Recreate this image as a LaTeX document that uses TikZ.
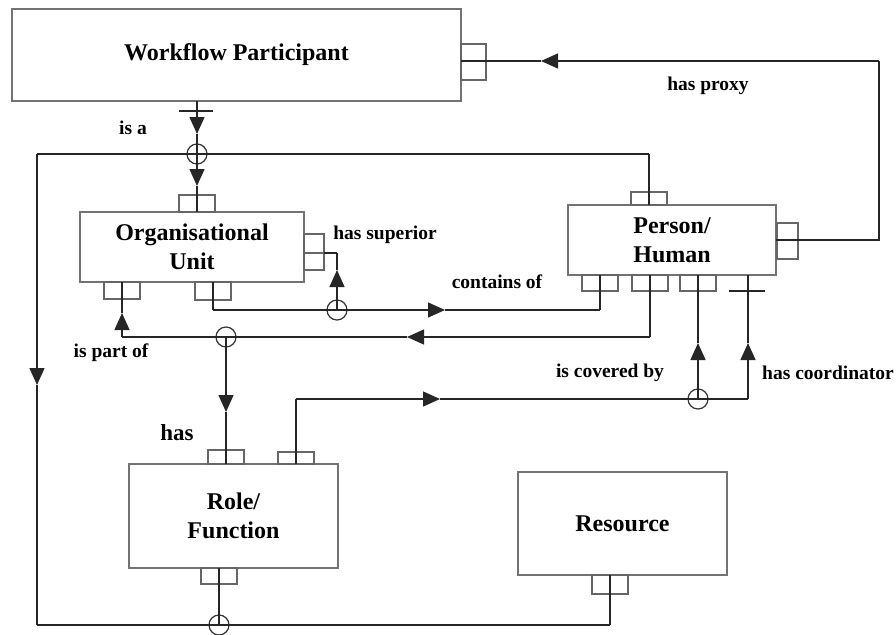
\documentclass[tikz,border=0pt]{standalone}
\usepackage{fontspec}
\setmainfont{Liberation Serif}
\usetikzlibrary{arrows.meta}

\begin{document}
\begin{tikzpicture}[x=1pt, y=-1pt, line width=1.3pt]
        \tikzstyle{entityBox} = [draw=gray!90!black, line width=1.8pt, fill=white, align=center,
                                 font=\fontsize{24}{29}\selectfont\bfseries]
        \tikzstyle{portBox} = [draw=gray!80!black, line width=1.5pt, inner sep=0pt,
                               minimum width=36pt, minimum height=16pt]
        \tikzstyle{sidePort} = [portBox, minimum width=22pt, minimum height=36pt]
        \tikzstyle{junction} = [circle, draw=black!80, line width=1.2pt, minimum size=20pt, inner sep=0pt]
        \tikzstyle{relLabel} = [font=\fontsize{19.5}{22}\selectfont\bfseries, inner sep=0pt]
        \tikzstyle{plainEdge} = [draw=black!85]
        \tikzstyle{arrowEdge} = [draw=black!85, -{Triangle[length=17pt, width=15pt]}]
        \useasboundingbox (0,0) rectangle (896,634);

        % entities
        \node[entityBox, minimum width=449pt, minimum height=92pt] (wp) at (236.5,55) {Workflow Participant};
        \node[entityBox, minimum width=224pt, minimum height=70pt] (ou) at (192,247) {Organisational\\Unit};
        \node[entityBox, minimum width=208pt, minimum height=70pt] (ph) at (672,240) {Person/\\Human};
        \node[entityBox, minimum width=209pt, minimum height=104pt] (rf) at (233.5,516) {Role/\\Function};
        \node[entityBox, minimum width=209pt, minimum height=103pt] (rs) at (622.5,523.5) {Resource};

        % ports
        \node[sidePort, minimum width=25pt] (portWP) at (473.5,62) {};
        \node[portBox, minimum height=17pt] (portOUt) at (197,203.5) {};
        \node[sidePort, minimum width=20pt, minimum height=19pt] (portOUr1) at (314,243.5) {};
        \node[sidePort, minimum width=20pt, minimum height=17pt] (portOUr2) at (314,261.5) {};
        \node[portBox, minimum height=17pt] (portOUb1) at (122,290.5) {};
        \node[portBox, minimum height=18pt] (portOUb2) at (213,291) {};
        \node[portBox, minimum height=13pt] (portPHt) at (649,198.5) {};
        \node[sidePort, minimum width=21pt] (portPHr) at (787.5,241) {};
        \node[portBox] (portPHb1) at (600,283) {};
        \node[portBox] (portPHb2) at (650,283) {};
        \node[portBox] (portPHb3) at (698,283) {};
        \node[portBox, minimum height=14pt] (portRFt1) at (226,457) {};
        \node[portBox, minimum height=12pt] (portRFt2) at (296,458) {};
        \node[portBox] (portRFb) at (219,576) {};
        \node[portBox, minimum height=19pt] (portRSb) at (610,584.5) {};

        % junctions
        \node[junction] (j1) at (197,154) {};
        \node[junction] (j2) at (337,310) {};
        \node[junction] (j3) at (226,337) {};
        \node[junction] (j4) at (698,399) {};
        \node[junction] (j5) at (219,625) {};

        % bends and arrow tips
        \coordinate (a1) at (197,101);  \coordinate (a2) at (197,134);
        \coordinate (a3) at (197,186);  \coordinate (a4) at (197,212);
        \coordinate (t1) at (649,205);  \coordinate (t2) at (649,154);
        \coordinate (t3) at (37,154);   \coordinate (t4) at (37,385);
        \coordinate (t5) at (37,625);   \coordinate (t6) at (610,625);
        \coordinate (t7) at (610,575);
        \coordinate (p1) at (776,240);  \coordinate (p2) at (879,240);
        \coordinate (p3) at (879,61);   \coordinate (p4) at (541,61);
        \coordinate (p5) at (461,61);
        \coordinate (s1) at (324,253);  \coordinate (s2) at (337,253);
        \coordinate (s3) at (337,270);
        \coordinate (c1) at (213,282);  \coordinate (c2) at (213,310);
        \coordinate (c3) at (445,310);  \coordinate (c4) at (600,310);
        \coordinate (c5) at (600,275);
        \coordinate (q1) at (650,275);  \coordinate (q2) at (650,337);
        \coordinate (q3) at (407,337);  \coordinate (q4) at (122,337);
        \coordinate (q5) at (122,313);  \coordinate (q6) at (122,282);
        \coordinate (h1) at (226,412);  \coordinate (h2) at (226,464);
        \coordinate (v1) at (296,464);  \coordinate (v2) at (296,399);
        \coordinate (v3) at (440,399);  \coordinate (v4) at (748,399);
        \coordinate (v5) at (748,343);  \coordinate (v6) at (748,275);
        \coordinate (w1) at (698,343);  \coordinate (w2) at (698,275);
        \coordinate (b1) at (219,568);
        \coordinate (k1) at (196,111);  \coordinate (k2) at (747,291);

        % connectors
        \foreach \from/\to in {a2/j1.center, a3/a4, t1/t2, t2/t3, t4/t5, t5/t6, t6/t7,
                               p4/p5, s3/s2, s2/s1, c1/c2, c3/c4, c4/c5,
                               q1/q2, q5/q6, h1/h2, v1/v2, v5/v6, w1/w2, b1/j5.center}
            \path[plainEdge] (\from) -- (\to);
        \foreach \from/\to in {a1/a2, j1.center/a3, t3/t4, j2.center/s3, c2/c3,
                               q2/q3, q4/q5, j3.center/h1, v2/v3, v4/v5, j4.center/w1}
            \path[arrowEdge] (\from) -- (\to);
        \draw[plainEdge] (p1) -- (p2) -- (p3);
        \draw[arrowEdge] (p3) -- (p4);
        \draw[plainEdge] (q3) -- (q4);
        \draw[plainEdge] (v3) -- (v4);
        \draw[plainEdge] ([xshift=-17pt]k1) -- ([xshift=17pt]k1);
        \draw[plainEdge] ([xshift=-18pt]k2) -- ([xshift=18pt]k2);

        % labels
        \node[relLabel] (lIsA) at (133,128) {is a};
        \node[relLabel] (lProxy) at (708,86) {has proxy};
        \node[relLabel] (lSup) at (385,235) {has superior};
        \node[relLabel] (lCont) at (497,282) {contains of};
        \node[relLabel] (lPart) at (111,353) {is part of};
        \node[relLabel, font=\fontsize{23}{26}\selectfont\bfseries] (lHas) at (177,433) {has};
        \node[relLabel] (lCov) at (610,373) {is covered by};
        \node[relLabel] (lCoord) at (828,373) {has coordinator};
    \end{tikzpicture}
\end{document}
